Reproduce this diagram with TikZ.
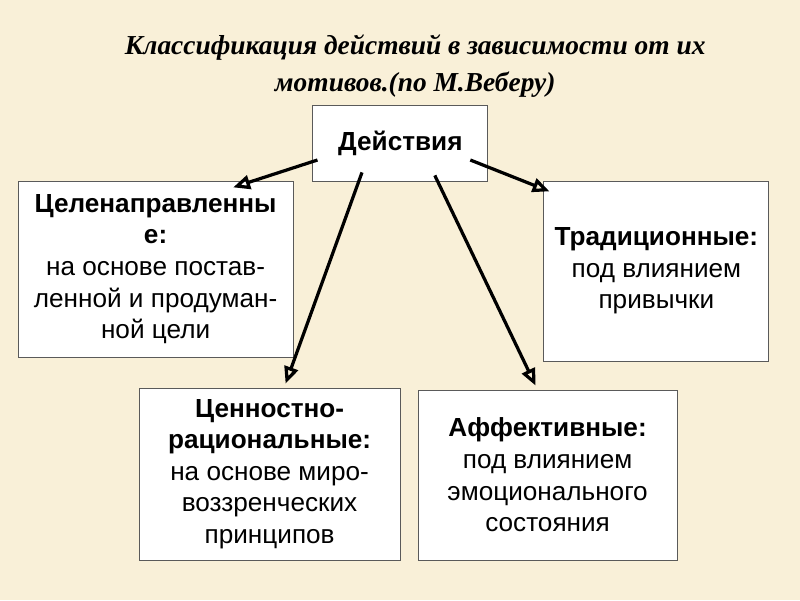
\documentclass[tikz,border=0pt]{standalone}
\usepackage{fontspec}
\setmainfont{Liberation Serif}
\setsansfont{Liberation Sans}
\usetikzlibrary{arrows.meta,calc}
\definecolor{paper}{RGB}{249,240,216}
\definecolor{boxline}{RGB}{90,90,90}
\begin{document}
\begin{tikzpicture}[
		box/.style={draw=boxline, line width=0.6pt, fill=white, align=center,
			font=\sffamily\fontsize{18.6}{22.5}\selectfont, inner sep=0pt},
		arr/.style={line width=2.3pt, -{Triangle[open,length=12pt,width=10pt]}}
	]
		% Background
		\fill[paper] (0,0) rectangle (20,15);
		\useasboundingbox (0,0) rectangle (20,15);
		
		% Title
		\node[align=center, font=\bfseries\itshape\fontsize{19.5}{26.3}\selectfont] (title) at (10.38,13.35)
			{Классификация действий в зависимости от их\\мотивов.(по М.Веберу)};
		
		% Boxes
		\node[box, minimum width=4.375cm, minimum height=1.9cm] (act) at (10.01,11.425) {\textbf{Действия}};
		\node[box, minimum width=6.875cm, minimum height=4.4cm] (goal) at (3.89,8.275)
			{\textbf{Целенаправленны}\\\textbf{е:}\\на основе постав-\\ленной и продуман-\\ной цели};
		\node[box, minimum width=5.625cm, minimum height=4.5cm] (trad) at (16.41,8.225)
			{\textbf{Традиционные:}\\под влиянием\\привычки};
		\node[box, minimum width=6.525cm, minimum height=4.3cm] (val) at (6.74,3.15)
			{\textbf{Ценностно-}\\\textbf{рациональные:}\\на основе миро-\\воззренческих\\принципов};
		\node[box, minimum width=6.475cm, minimum height=4.25cm] (aff) at (13.69,3.125)
			{\textbf{Аффективные:}\\под влиянием\\эмоционального\\состояния};
		
		% Arrows
		\draw[arr] ($(act.west)+(0.125,-0.425)$) -- ($(goal.north)+(1.94,-0.17)$);
		\draw[arr] ($(act.east)+(-0.45,-0.425)$) -- ($(trad.north west)+(0.15,-0.27)$);
		\draw[arr] ($(act.south)+(-0.96,0.225)$) -- ($(val.north)+(0.4,0.1)$);
		\draw[arr] ($(act.south)+(0.86,0.15)$) -- ($(aff.north)+(-0.3,0.1)$);
		
	\end{tikzpicture}
\end{document}
